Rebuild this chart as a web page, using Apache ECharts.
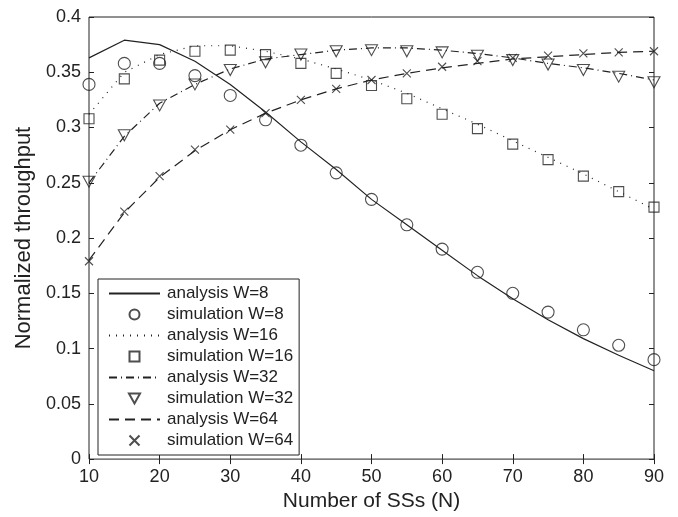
<!DOCTYPE html>
<html>
<head>
<meta charset="utf-8">
<script src="https://cdn.jsdelivr.net/npm/echarts@6/dist/echarts.min.js"></script>
<style>
  html, body { margin: 0; padding: 0; background: #fff; }
  #chart { width: 678px; height: 517px; }
</style>
</head>
<body>
<div id="chart"></div>
<script>
// number of SSs
var nValues = [10, 15, 20, 25, 30, 35, 40, 45, 50, 55, 60, 65, 70, 75, 80, 85, 90]

// analysis curves
var analysisW8 = [0.363, 0.379, 0.375, 0.360, 0.339, 0.314, 0.287, 0.262, 0.235, 0.212, 0.189, 0.166, 0.145, 0.126, 0.109, 0.094, 0.080]
var analysisW16 = [0.312, 0.350, 0.366, 0.374, 0.374, 0.369, 0.362, 0.353, 0.343, 0.331, 0.317, 0.303, 0.288, 0.273, 0.258, 0.242, 0.226]
var analysisW32 = [0.250, 0.292, 0.322, 0.339, 0.353, 0.362, 0.366, 0.370, 0.372, 0.372, 0.370, 0.367, 0.363, 0.358, 0.354, 0.349, 0.343]
var analysisW64 = [0.180, 0.223, 0.255, 0.279, 0.298, 0.313, 0.325, 0.335, 0.343, 0.349, 0.354, 0.358, 0.362, 0.364, 0.366, 0.368, 0.369]

// simulation points
var simW8 = [0.339, 0.358, 0.358, 0.347, 0.329, 0.307, 0.284, 0.259, 0.235, 0.212, 0.190, 0.169, 0.150, 0.133, 0.117, 0.103, 0.090]
var simW16 = [0.308, 0.344, 0.361, 0.369, 0.370, 0.366, 0.358, 0.349, 0.338, 0.326, 0.312, 0.299, 0.285, 0.271, 0.256, 0.242, 0.228]
var simW32 = [0.251, 0.293, 0.320, 0.339, 0.352, 0.359, 0.366, 0.369, 0.370, 0.369, 0.368, 0.365, 0.361, 0.357, 0.352, 0.346, 0.341]
var simW64 = [0.179, 0.224, 0.256, 0.280, 0.298, 0.313, 0.325, 0.335, 0.343, 0.349, 0.355, 0.360, 0.363, 0.365, 0.367, 0.368, 0.369]

var FONT = "'Liberation Sans', Arial, Helvetica, sans-serif"
var INK = '#222'
var CLEAR = 'rgba(255,255,255,0)'

function pairs(ys) {
  return nValues.map(function (n, i) { return [n, ys[i]] })
}

function analysis(name, ys, type) {
  return {
    name: name,
    type: 'line',
    data: pairs(ys),
    symbol: 'circle',
    symbolSize: 0,
    showSymbol: false,
    silent: true,
    animation: false,
    lineStyle: { color: INK, width: 1.2, type: type },
    // transparent so the legend shows only the line sample
    itemStyle: { color: CLEAR, borderWidth: 0 },
    z: 2
  }
}

function simulation(name, ys, symbol, size) {
  return {
    name: name,
    type: 'scatter',
    data: pairs(ys),
    symbol: symbol,
    symbolSize: size,
    silent: true,
    animation: false,
    itemStyle: { color: CLEAR, borderColor: INK, borderWidth: 1.1 },
    z: 3
  }
}

var chart = echarts.init(document.getElementById('chart'))

var hiddenAxis = {
  axisLabel: { show: false },
  axisLine: { show: false },
  splitLine: { show: false },
  axisTick: { inside: true, length: 5, lineStyle: { color: INK } }
}

chart.setOption({
  backgroundColor: '#fff',
  textStyle: { fontFamily: FONT },
  grid: {
    left: 89, right: 24, top: 17, bottom: 55,
    show: true, borderColor: INK, borderWidth: 1, backgroundColor: '#fff'
  },
  legend: {
    orient: 'vertical',
    left: 98,
    top: 279,
    padding: [6, 6, 6, 10],
    itemWidth: 51,
    itemHeight: 10,
    itemGap: 4,
    symbolKeepAspect: true,
    backgroundColor: '#fff',
    borderColor: INK,
    borderWidth: 1,
    textStyle: { fontFamily: FONT, fontSize: 17, color: INK, lineHeight: 17, padding: [0, 0, 0, 2] },
    data: [
      'analysis W=8', 'simulation W=8', 'analysis W=16', 'simulation W=16',
      'analysis W=32', 'simulation W=32', 'analysis W=64', 'simulation W=64'
    ]
  },
  xAxis: [
    {
      type: 'value',
      min: 10, max: 90, interval: 10,
      name: 'Number of SSs (N)',
      nameLocation: 'middle',
      nameGap: 15,
      nameTextStyle: { fontSize: 21, color: INK, fontFamily: FONT },
      axisLine: { show: false },
      splitLine: { show: false },
      axisTick: { inside: true, length: 5, lineStyle: { color: INK } },
      axisLabel: { fontSize: 18, color: INK, margin: 9, fontFamily: FONT }
    },
    Object.assign({ type: 'value', position: 'top', min: 10, max: 90, interval: 10 }, hiddenAxis)
  ],
  yAxis: [
    {
      type: 'value',
      min: 0, max: 0.4, interval: 0.05,
      name: 'Normalized throughput',
      nameLocation: 'middle',
      nameGap: 47,
      nameTextStyle: { fontSize: 22, color: INK, fontFamily: FONT },
      axisLine: { show: false },
      splitLine: { show: false },
      axisTick: { inside: true, length: 5, lineStyle: { color: INK } },
      axisLabel: { fontSize: 18, color: INK, margin: 8, fontFamily: FONT }
    },
    Object.assign({ type: 'value', position: 'right', min: 0, max: 0.4, interval: 0.05 }, hiddenAxis)
  ],
  series: [
    analysis('analysis W=8', analysisW8, 'solid'),
    simulation('simulation W=8', simW8, 'circle', 12),
    analysis('analysis W=16', analysisW16, [1, 6]),
    simulation('simulation W=16', simW16, 'path://M0,0L10,0L10,10L0,10Z', 10),
    analysis('analysis W=32', analysisW32, [8, 4, 1, 4]),
    simulation('simulation W=32', simW32, 'path://M0,0L10,0L5,9Z', [12, 11]),
    analysis('analysis W=64', analysisW64, [10, 6]),
    simulation('simulation W=64', simW64, 'path://M0,0L10,10M10,0L0,10', 8)
  ]
})
</script>
</body>
</html>
